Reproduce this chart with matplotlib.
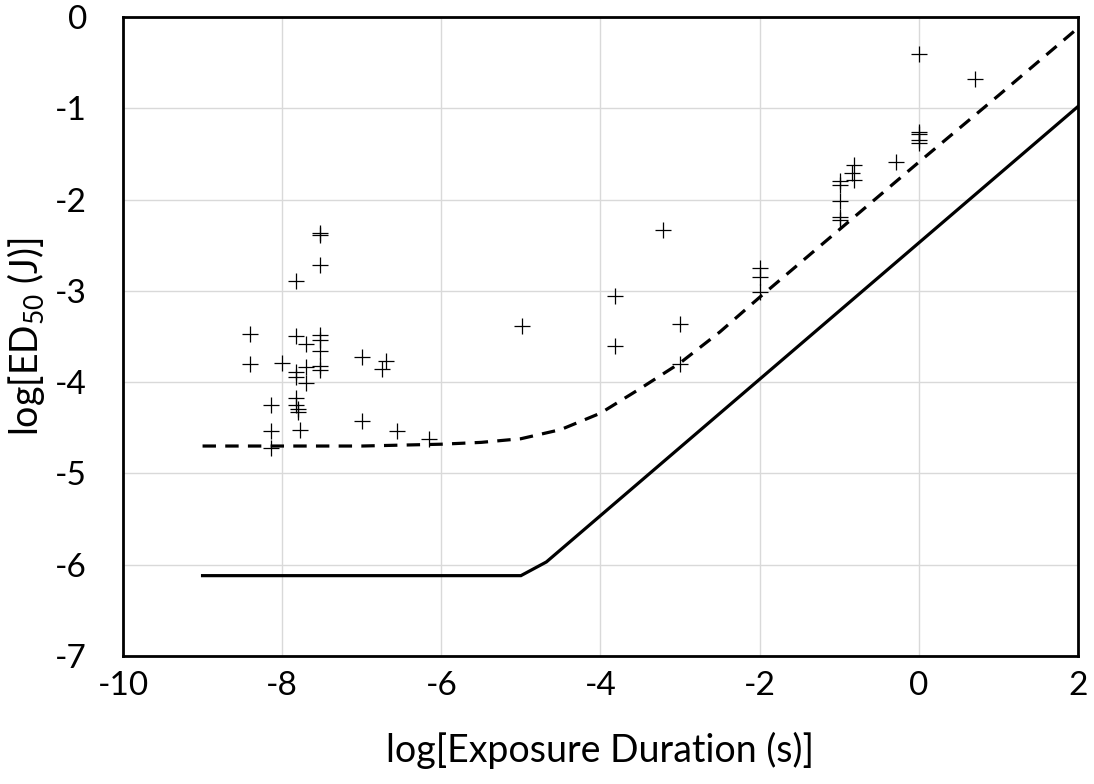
import matplotlib
matplotlib.use("Agg")
import matplotlib.pyplot as plt

plt.rcParams['font.family'] = ['Lato', 'DejaVu Sans']
plt.rcParams['mathtext.fontset'] = 'custom'
plt.rcParams['mathtext.rm'] = 'Lato'
plt.rcParams['mathtext.it'] = 'Lato:italic'
plt.rcParams['mathtext.bf'] = 'Lato:bold'

# Scatter data: log exposure duration (s) vs log ED50 (J)
pts_x = [-7.52, -7.52, -7.52, -7.83, -8.40, -8.40, -8.00, -7.83, -7.70,
         -7.52, -7.52, -7.52, -7.52, -7.52, -7.83, -7.83, -7.70, -7.70,
         -7.83, -7.83, -7.80, -7.80, -7.78, -8.14, -8.14, -8.14,
         -7.00, -6.69, -6.74, -7.00, -6.56, -6.15,
         -4.99, -3.82, -3.82, -3.22, -3.00, -3.00,
         -2.00, -2.00, -2.00,
         -0.99, -0.99, -0.99, -0.99, -0.99, -0.82, -0.84, -0.82, -0.29,
         0.00, 0.00, 0.00, 0.00, 0.00, 0.71]
pts_y = [-2.37, -2.39, -2.72, -2.89, -3.47, -3.80, -3.79, -3.50, -3.58,
         -3.48, -3.54, -3.66, -3.82, -3.87, -3.89, -3.94, -3.83, -4.01,
         -4.17, -4.25, -4.29, -4.33, -4.52, -4.25, -4.54, -4.72,
         -3.72, -3.77, -3.86, -4.43, -4.54, -4.62,
         -3.38, -3.06, -3.60, -2.33, -3.36, -3.80,
         -2.75, -2.85, -3.01,
         -1.80, -1.84, -2.02, -2.19, -2.22, -1.62, -1.71, -1.79, -1.59,
         -0.41, -1.26, -1.28, -1.35, -1.38, -0.68]

# Dashed curve
dash_x = [-9, -8, -7, -6, -5.5, -5, -4.5, -4, -3.5, -3, -2.5, -2, -1, 0, 1, 2]
dash_y = [-4.70, -4.70, -4.70, -4.68, -4.66, -4.62, -4.52, -4.34, -4.07,
          -3.79, -3.45, -3.07, -2.33, -1.59, -0.86, -0.12]

# Solid curve
solid_x = [-9, -5, -4.68, 2]
solid_y = [-6.12, -6.12, -5.97, -0.98]

x_ticks = [-10, -8, -6, -4, -2, 0, 2]
y_ticks = [0, -1, -2, -3, -4, -5, -6, -7]

fig = plt.figure(figsize=(10.94, 7.84), dpi=100)
ax = fig.add_axes([0.1124, 0.1633, 0.8730, 0.8150])

ax.plot(solid_x, solid_y, color='black', lw=2.3, solid_joinstyle='miter', zorder=3)
ax.plot(dash_x, dash_y, color='black', lw=2.3, ls=(0, (4.2, 2.9)), zorder=3)
ax.plot(pts_x, pts_y, ls='none', marker='+', ms=12, mew=0.9, color='black', zorder=4)

ax.set_xlim(-10, 2)
ax.set_ylim(-7, 0)
ax.set_xticks(x_ticks)
ax.set_yticks(y_ticks)
ax.set_xticklabels([str(v) for v in x_ticks])
ax.set_yticklabels([str(v) for v in y_ticks])
ax.grid(True, color='#d9d9d9', lw=1.0)
ax.set_axisbelow(True)
ax.tick_params(length=0, labelsize=24)
ax.tick_params(axis='x', pad=11)
ax.tick_params(axis='y', pad=26)
for s in ax.spines.values():
    s.set_linewidth(2.0)
    s.set_color('black')

ax.set_xlabel('log[Exposure Duration (s)]', fontsize=27, labelpad=22)
ax.set_ylabel(r'log[ED$_{50}$ (J)]', fontsize=27, labelpad=6)

fig.savefig('out.png', dpi=100, facecolor='white')
